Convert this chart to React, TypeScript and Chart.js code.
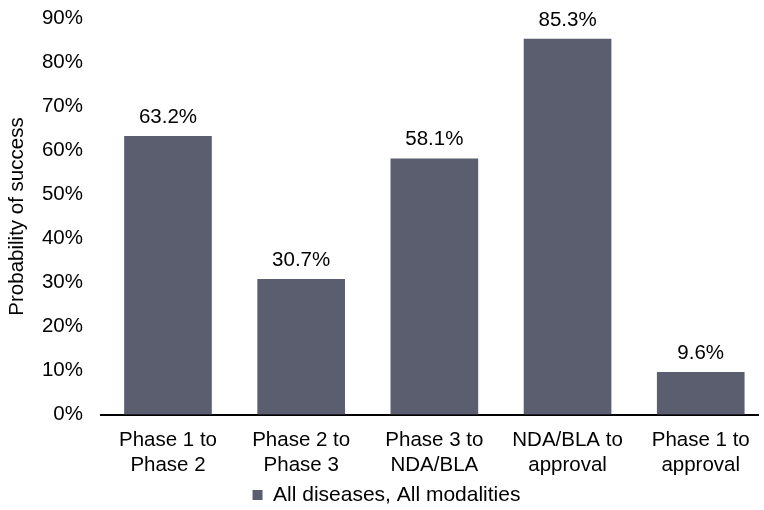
import React, { useEffect, useRef } from "react";
import { Chart, registerables } from "chart.js";

Chart.register(...registerables);

// Development stage transitions (multi-line axis labels)
const stages: string[][] = [
  ["Phase 1 to", "Phase 2"],
  ["Phase 2 to", "Phase 3"],
  ["Phase 3 to", "NDA/BLA"],
  ["NDA/BLA to", "approval"],
  ["Phase 1 to", "approval"],
];

const seriesName = "All diseases, All modalities";

// Probability of success, in percent
const successRates: number[] = [63.2, 30.7, 58.1, 85.3, 9.6];

// Percent axis range and step
const yMin = 0;
const yMax = 90;
const yStep = 10;

const FONT_FAMILY = "'Liberation Sans', Arial, Helvetica, sans-serif";
const BAR_COLOR = "#5b5e6f";
const TEXT_COLOR = "#000000";

// Writes each bar's value above it
const valueLabels = {
  id: "valueLabels",
  afterDatasetsDraw(chart: any) {
    const { ctx } = chart;
    const meta = chart.getDatasetMeta(0);
    ctx.save();
    ctx.font = `20.5px ${FONT_FAMILY}`;
    ctx.fillStyle = TEXT_COLOR;
    ctx.textAlign = "center";
    ctx.textBaseline = "alphabetic";
    meta.data.forEach((bar: any, i: number) => {
      ctx.fillText(`${successRates[i].toFixed(1)}%`, bar.x, bar.y - 13.5);
    });
    ctx.restore();
  },
};

// Small offset for the legend block below the axis labels
const legendOffset = {
  id: "legendOffset",
  afterLayout(chart: any) {
    const lg = chart.legend;
    if (!lg) return;
    lg.left += 6;
    lg.right += 6;
    lg.top += 5.5;
    lg.bottom += 5.5;
  },
};

export default function App() {
  const canvasRef = useRef<HTMLCanvasElement | null>(null);

  useEffect(() => {
    const canvas = canvasRef.current;
    if (!canvas) return;

    const chart = new Chart(canvas, {
      type: "bar",
      data: {
        datasets: [
          {
            label: seriesName,
            data: successRates.map((v, i) => ({ x: i, y: v })),
            backgroundColor: BAR_COLOR,
            borderWidth: 0,
            barThickness: 87,
          },
        ],
      },
      options: {
        responsive: false,
        animation: false,
        layout: {
          padding: { top: 18.5, right: 3, left: 0, bottom: 0 },
        },
        plugins: {
          legend: {
            position: "bottom",
            labels: {
              boxWidth: 10,
              boxHeight: 10,
              padding: 0.5,
              color: TEXT_COLOR,
              font: { family: FONT_FAMILY, size: 21 },
            },
          },
          tooltip: { enabled: false },
        },
        scales: {
          x: {
            type: "linear",
            min: -0.503,
            max: 4.432,
            offset: false,
            grid: { display: false, drawTicks: false },
            border: { display: true, color: "#000000", width: 2 },
            afterBuildTicks: (axis: any) => {
              axis.ticks = stages.map((_, i) => ({ value: i }));
            },
            afterFit: (scale: any) => {
              scale.height = 64;
            },
            ticks: {
              autoSkip: false,
              maxRotation: 0,
              minRotation: 0,
              padding: 14,
              color: TEXT_COLOR,
              font: { family: FONT_FAMILY, size: 20.5, lineHeight: 1.2 },
              callback: (_v: any, index: number) => stages[index],
            },
          },
          y: {
            min: yMin,
            max: yMax,
            // hidden tick marks keep the gap between labels and bars
            grid: { display: false, drawTicks: true, tickLength: 18 },
            border: { display: false },
            afterFit: (scale: any) => {
              scale.width = 101;
            },
            ticks: {
              stepSize: yStep,
              padding: 0,
              color: TEXT_COLOR,
              font: { family: FONT_FAMILY, size: 20.5 },
              callback: (v: any) => `${v}%`,
            },
            title: {
              display: true,
              text: "Probability of success",
              color: TEXT_COLOR,
              padding: { top: 5, bottom: 0 },
              font: { family: FONT_FAMILY, size: 20.5, lineHeight: 1.2 },
            },
          },
        },
      },
      plugins: [valueLabels, legendOffset],
    });

    return () => chart.destroy();
  }, []);

  return (
    <div
      style={{
        position: "fixed",
        left: 0,
        top: 0,
        width: 764,
        height: 510,
        background: "#ffffff",
      }}
    >
      <canvas ref={canvasRef} width={764} height={510} style={{ display: "block" }} />
    </div>
  );
}
